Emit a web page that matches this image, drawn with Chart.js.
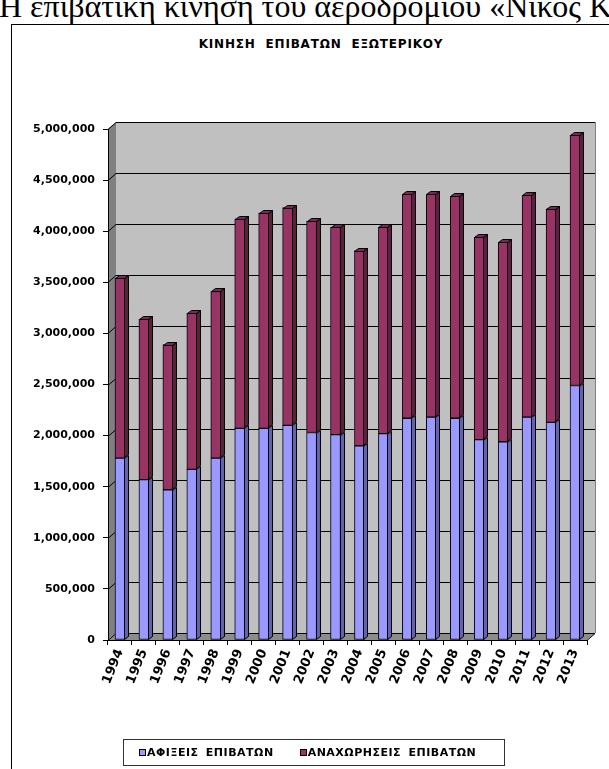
<!DOCTYPE html>
<html>
<head>
<meta charset="utf-8">
<script src="https://cdn.jsdelivr.net/npm/chart.js@4.4.0/dist/chart.umd.min.js"></script>
<style>
  html, body { margin: 0; padding: 0; background: #fff; }
  body { width: 609px; height: 769px; position: relative; overflow: hidden; font-family: "DejaVu Sans", Arial, sans-serif; }
  #heading { position: absolute; left: -1px; top: -10px; font-family: "Liberation Serif", "Times New Roman", serif; font-size: 32px; line-height: 32px; white-space: nowrap; }
  #frame { position: absolute; left: 11px; top: 24px; width: 700px; height: 800px; border: 1px solid #000; }
  #title { position: absolute; left: 0; width: 642px; top: 37px; text-align: center; font-weight: bold; font-size: 12px; letter-spacing: 0.8px; word-spacing: 5px; }
  #chartBox { position: absolute; left: 0; top: 0; width: 609px; height: 769px; }
  #legend { position: absolute; left: 123px; top: 739px; width: 382px; height: 27px; border: 1px solid #333; box-sizing: border-box;
            font-weight: bold; font-size: 11px; letter-spacing: 0.5px; word-spacing: 3px; display: flex; align-items: center; padding-left: 15px; }
  #legend span.item { display: inline-flex; align-items: center; margin-right: 26px; }
  #legend i { display: inline-block; width: 5px; height: 5px; border: 1px solid #000; margin-right: 1px; }
</style>
</head>
<body>
<div id="heading">Η επιβατική κίνηση του αεροδρομίου «Νίκος Καζαντζάκης»</div>
<div id="frame"></div>
<div id="title">ΚΙΝΗΣΗ ΕΠΙΒΑΤΩΝ ΕΞΩΤΕΡΙΚΟΥ</div>
<div id="chartBox"><canvas id="myChart"></canvas></div>
<div id="legend"></div>
<script>
const years = ['1994', '1995', '1996', '1997', '1998', '1999', '2000', '2001', '2002', '2003',
               '2004', '2005', '2006', '2007', '2008', '2009', '2010', '2011', '2012', '2013'];

// αφίξεις / αναχωρήσεις επιβατών εξωτερικού
const arrivals = [1780000, 1570000, 1470000, 1670000, 1780000, 2070000, 2070000, 2100000, 2030000, 2010000,
                  1900000, 2020000, 2170000, 2180000, 2170000, 1960000, 1940000, 2180000, 2130000, 2490000];
const departures = [1760000, 1570000, 1420000, 1530000, 1630000, 2050000, 2110000, 2130000, 2070000, 2030000,
                    1910000, 2020000, 2190000, 2180000, 2170000, 1980000, 1950000, 2170000, 2090000, 2450000];

const seriesNames = ['ΑΦΙΞΕΙΣ ΕΠΙΒΑΤΩΝ', 'ΑΝΑΧΩΡΗΣΕΙΣ ΕΠΙΒΑΤΩΝ'];
const yMax = 5000000;
const yStep = 500000;

// βάθος τοίχων και ράβδων (ψευδο-3D)
const DX = 8, DY = 7;
const BX = 4, BY = 3;

const family = '"DejaVu Sans", Arial, sans-serif';

function poly(ctx, pts) {
    ctx.beginPath();
    ctx.moveTo(pts[0][0], pts[0][1]);
    for (let i = 1; i < pts.length; i++) ctx.lineTo(pts[i][0], pts[i][1]);
    ctx.closePath();
}

const walls = {
    id: 'walls',
    beforeDraw(chart) {
        const { ctx, chartArea: a, scales: { y } } = chart;
        ctx.save();
        // πίσω τοίχος
        ctx.fillStyle = '#c0c0c0';
        ctx.fillRect(a.left + DX, a.top - DY, a.right - a.left, a.bottom - a.top);
        // πλαϊνός τοίχος
        ctx.fillStyle = '#808080';
        poly(ctx, [[a.left, a.top], [a.left + DX, a.top - DY], [a.left + DX, a.bottom - DY], [a.left, a.bottom]]);
        ctx.fill();
        // δάπεδο
        ctx.fillStyle = '#8c8c8c';
        poly(ctx, [[a.left, a.bottom], [a.left + DX, a.bottom - DY], [a.right + DX, a.bottom - DY], [a.right, a.bottom]]);
        ctx.fill();

        ctx.strokeStyle = '#808080';
        ctx.lineWidth = 1;
        ctx.beginPath();
        ctx.moveTo(a.right + DX + 0.5, a.top - DY);
        ctx.lineTo(a.right + DX + 0.5, a.bottom - DY);
        ctx.stroke();

        // γραμμές πλέγματος
        ctx.strokeStyle = '#000';
        y.ticks.forEach(t => {
            const py = Math.round(y.getPixelForValue(t.value)) + 0.5;
            ctx.beginPath();
            ctx.moveTo(a.left, py);
            ctx.lineTo(a.left + DX, py - DY);
            ctx.lineTo(a.right + DX, py - DY);
            ctx.stroke();
        });
        ctx.beginPath();
        ctx.moveTo(a.right, a.bottom + 0.5);
        ctx.lineTo(a.right + DX, a.bottom - DY + 0.5);
        ctx.stroke();
        ctx.restore();
    },
    afterDatasetsDraw(chart) {
        const ctx = chart.ctx;
        const last = chart.data.datasets.length - 1;
        ctx.save();
        ctx.strokeStyle = '#000';
        ctx.lineWidth = 1;
        chart.data.datasets.forEach((ds, i) => {
            chart.getDatasetMeta(i).data.forEach(el => {
                const { x, y, base, width } = el.getProps(['x', 'y', 'base', 'width'], true);
                const l = Math.round(x - width / 2) + 0.5;
                const r = Math.round(x + width / 2) - 0.5;
                const top = Math.round(Math.min(y, base)) + 0.5;
                const bot = Math.round(Math.max(y, base)) - 0.5;
                ctx.fillStyle = ds.sideColor;
                poly(ctx, [[r, top], [r + BX, top - BY], [r + BX, bot - BY], [r, bot]]);
                ctx.fill();
                ctx.stroke();
                if (i === last) {
                    ctx.fillStyle = ds.topColor;
                    poly(ctx, [[l, top], [l + BX, top - BY], [r + BX, top - BY], [r, top]]);
                    ctx.fill();
                    ctx.stroke();
                }
            });
        });
        ctx.restore();
    }
};

const ctx = document.getElementById('myChart');

const chart = new Chart(ctx, {
    type: 'bar',
    data: {
        labels: years,
        datasets: [{
            label: seriesNames[0],
            data: arrivals,
            backgroundColor: '#9999ff',
            sideColor: '#6262b0',
            topColor: '#b8b8ff',
            borderColor: '#000',
            borderWidth: 1,
            borderSkipped: false,
            barThickness: 10
        }, {
            label: seriesNames[1],
            data: departures,
            backgroundColor: '#993366',
            sideColor: '#5e1f3f',
            topColor: '#7a2952',
            borderColor: '#000',
            borderWidth: 1,
            borderSkipped: false,
            barThickness: 10
        }]
    },
    options: {
        responsive: true,
        maintainAspectRatio: false,
        animation: false,
        layout: { padding: { top: 129, right: 22, left: 0, bottom: 0 } },
        plugins: {
            legend: { display: false },
            tooltip: { enabled: false }
        },
        scales: {
            x: {
                stacked: true,
                grid: { offset: true, drawOnChartArea: false, tickLength: 5, color: '#000' },
                border: { color: '#000' },
                ticks: { color: '#000', font: { family: family, weight: 'bold', size: 13 }, minRotation: 68, maxRotation: 68, autoSkip: false, padding: 2 },
                afterFit: s => { s.height = 129; }
            },
            y: {
                stacked: true,
                min: 0,
                max: yMax,
                grid: { drawOnChartArea: false, tickLength: 5, color: '#000' },
                border: { color: '#000' },
                ticks: {
                    stepSize: yStep,
                    padding: 8,
                    color: '#000',
                    font: { family: family, weight: 'bold', size: 11 },
                    callback: v => v.toLocaleString('en-US')
                },
                afterFit: s => { s.width = 108; }
            }
        }
    },
    plugins: [walls]
});

// υπόμνημα
const legend = document.getElementById('legend');
chart.data.datasets.forEach(ds => {
    const item = document.createElement('span');
    item.className = 'item';
    const box = document.createElement('i');
    box.style.background = ds.backgroundColor;
    item.appendChild(box);
    item.appendChild(document.createTextNode(ds.label));
    legend.appendChild(item);
});
</script>
</body>
</html>
